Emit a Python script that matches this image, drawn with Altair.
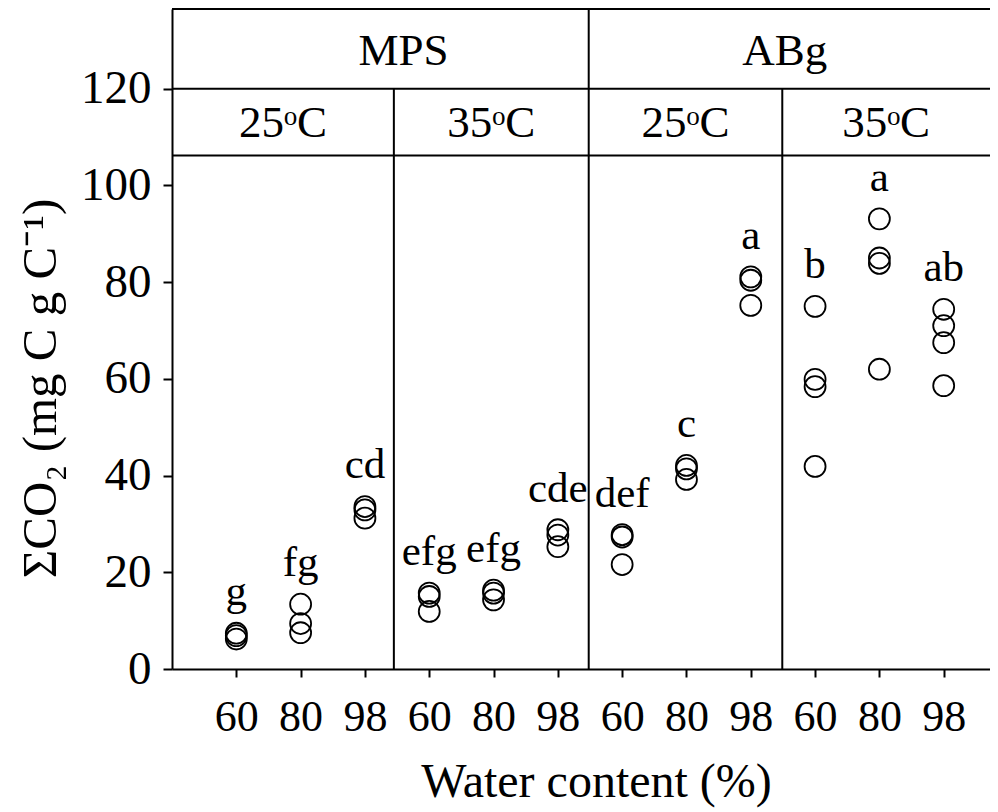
import altair as alt
import pandas as pd

# ---------------- data ----------------
soils = ["MPS", "ABg"]
temps = ["25ᵒC", "35ᵒC", "25ᵒC", "35ᵒC"]
water = ["60", "80", "98"]

# one list of replicate values per (soil, temperature, water) group, left to right
values = [
    [7.4, 6.9, 6.2],          # MPS 25 60
    [13.4, 9.4, 7.5],         # MPS 25 80
    [33.6, 32.9, 31.2],       # MPS 25 98
    [15.7, 15.0, 11.9],       # MPS 35 60
    [16.3, 15.7, 14.3],       # MPS 35 80
    [28.8, 27.7, 25.3],       # MPS 35 98
    [27.8, 27.3, 21.6],       # ABg 25 60
    [42.1, 41.4, 39.2],       # ABg 25 80
    [81.1, 80.4, 75.2],       # ABg 25 98
    [75.0, 59.9, 58.4, 41.9], # ABg 35 60
    [93.1, 85.0, 83.9, 62.0], # ABg 35 80
    [74.4, 71.0, 67.5, 58.6], # ABg 35 98
]
letters = ["g", "fg", "cd", "efg", "efg", "cde", "def", "c", "a", "b", "a", "ab"]

y_ticks = [0, 20, 40, 60, 80, 100, 120]

# ---------------- layout constants ----------------
FONT = "Liberation Serif"
XMAX = 12.72
YMAX = 136.5
ROW1_Y = 120.0      # line between soil header and temperature header
ROW2_Y = 106.2      # line under temperature header
soil_bounds = [0, 6.48, XMAX]
temp_bounds = [0, 3.45, 6.48, 9.49, XMAX]
soil_label_x = [3.6, 9.53]   # where the soil headers sit (as in the reference)

# ---------------- frames ----------------
pts = pd.DataFrame(
    [{"pos": i + 1, "value": v} for i, vals in enumerate(values) for v in vals]
)
lab = pd.DataFrame(
    {
        "pos": [i + 1 for i in range(len(letters))],
        "letter": letters,
        "y": [max(v) + 5.8 for v in values],
    }
)
head1 = pd.DataFrame({"x": soil_label_x, "t": soils, "y": [124.9] * len(soils)})
head2 = pd.DataFrame(
    {
        "x": [(temp_bounds[i] + temp_bounds[i + 1]) / 2 for i in range(len(temps))],
        "t": temps,
        "y": [110.0] * len(temps),
    }
)
hlines = pd.DataFrame({"x": [0, 0, 0], "x2": [XMAX] * 3, "y": [YMAX, ROW1_Y, ROW2_Y]})
vlines = pd.DataFrame(
    {
        "x": [temp_bounds[1], soil_bounds[1], temp_bounds[3]],
        "y": [0, 0, 0],
        "y2": [ROW1_Y, YMAX, ROW1_Y],
    }
)

label_expr = " : ".join(
    f"(datum.value - 1) % 3 == {k} ? '{w}'" for k, w in enumerate(water[:-1])
) + f" : '{water[-1]}'"

xscale = alt.Scale(domain=[0, XMAX], nice=False, zero=False)
yscale = alt.Scale(domain=[0, YMAX], nice=False)

x_axis = alt.Axis(
    values=list(range(1, 13)),
    labelExpr=label_expr,
    title="Water content (%)",
    grid=False,
    tickSize=8,
    tickWidth=2,
    tickColor="black",
    domainColor="black",
    domainWidth=2,
    labelFont=FONT,
    labelFontSize=44,
    labelColor="black",
    labelPadding=18,
    labelBaseline="top",
    titleFont=FONT,
    titleFontSize=48,
    titleFontWeight="normal",
    titleColor="black",
    titleX=424,
    titleY=127,
    titleBaseline="alphabetic",
)
y_axis = alt.Axis(
    values=y_ticks,
    title="ΣCO₂  (mg C g C⁻¹)",
    grid=False,
    tickSize=9,
    tickWidth=2,
    tickColor="black",
    domainColor="black",
    domainWidth=2,
    labelFont=FONT,
    labelFontSize=47,
    labelColor="black",
    labelPadding=12,
    titleFont=FONT,
    titleFontSize=49,
    titleFontWeight="normal",
    titleColor="black",
    titleAngle=270,
    titleX=-132,
    titleY=379,
    titleAlign="center",
    titleBaseline="middle",
)

points = alt.Chart(pts).mark_point(
    shape="circle", filled=False, stroke="black", strokeWidth=1.8, size=440, opacity=1
).encode(
    x=alt.X("pos:Q", scale=xscale, axis=x_axis),
    y=alt.Y("value:Q", scale=yscale, axis=y_axis),
)

letter_text = alt.Chart(lab).mark_text(
    font=FONT, fontSize=43, color="black", baseline="alphabetic", align="center"
).encode(x=alt.X("pos:Q", scale=xscale), y=alt.Y("y:Q", scale=yscale), text="letter:N")

h1 = alt.Chart(head1).mark_text(
    font=FONT, fontSize=45, color="black", baseline="alphabetic", align="center"
).encode(x=alt.X("x:Q", scale=xscale), y=alt.Y("y:Q", scale=yscale), text="t:N")

h2 = alt.Chart(head2).mark_text(
    font=FONT, fontSize=45, color="black", baseline="alphabetic", align="center"
).encode(x=alt.X("x:Q", scale=xscale), y=alt.Y("y:Q", scale=yscale), text="t:N")

hr = alt.Chart(hlines).mark_rule(color="black", strokeWidth=2).encode(
    x=alt.X("x:Q", scale=xscale), x2="x2:Q", y=alt.Y("y:Q", scale=yscale)
)
vr = alt.Chart(vlines).mark_rule(color="black", strokeWidth=2).encode(
    x=alt.X("x:Q", scale=xscale), y=alt.Y("y:Q", scale=yscale), y2="y2:Q"
)

chart = (
    alt.layer(hr, vr, points, letter_text, h1, h2)
    .properties(
        width=818,
        height=660,
        autosize=alt.AutoSizeParams(type="none"),
        padding={"left": 164, "top": 1, "right": 0, "bottom": 142},
        background="white",
    )
    .configure_view(strokeWidth=0)
)

chart.save("out.html", embed_options={"renderer": "svg", "actions": False})
